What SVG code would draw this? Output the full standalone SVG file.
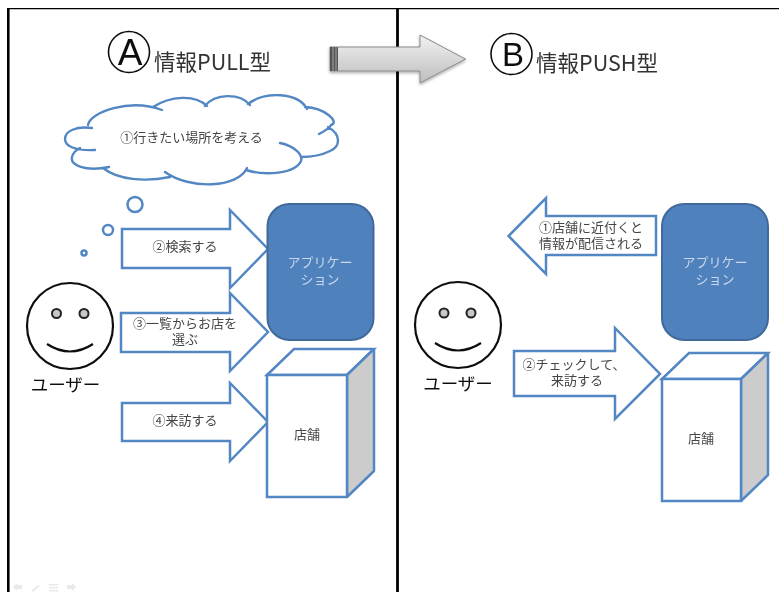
<svg xmlns="http://www.w3.org/2000/svg" width="779" height="592" viewBox="0 0 779 592">
<style>
text{font-family:"Liberation Sans","Noto Sans CJK JP",sans-serif;fill:#454545;font-size:13px;text-anchor:middle}
.b{fill:#fff;stroke:#5387c4;stroke-width:2.500;stroke-linejoin:miter;stroke-miterlimit:3}
.app{fill:#4f81bd;stroke:#3f6a9c;stroke-width:2}
.al{fill:#c9d8ec}
.side{fill:#ccc;stroke:#5387c4;stroke-width:2.500;stroke-linejoin:bevel}
.f{fill:none;stroke:#111;stroke-width:2.200}
.eye{fill:#c8c8c8;stroke:#222;stroke-width:2}
.frame{stroke:#000;fill:none}
.u{font-size:17.500px;fill:#111}
.t{font-size:21.500px;fill:#333;font-family:"Noto Sans CJK JP",sans-serif}
.big{font-size:37px;fill:#111;font-family:"Liberation Sans",sans-serif}
.tb{fill:#e9e9e9}
</style>
<defs>
<linearGradient id="g" x1="0" y1="0" x2="0" y2="1"><stop offset="0" stop-color="#f2f2f2"/><stop offset="1" stop-color="#bdbdbd"/></linearGradient>
<filter id="s" x="-10%" y="-10%" width="125%" height="130%"><feDropShadow dx="0" dy="1.500" stdDeviation="1.500" flood-color="#000" flood-opacity=".35"/></filter>
<filter id="soft" x="0" y="0" width="100%" height="100%"><feGaussianBlur stdDeviation="0.4"/></filter>
</defs>
<rect width="779" height="592" fill="#fff"/>
<g filter="url(#soft)">
<g id="frame" class="frame">
<path d="M7 8.500H779" stroke-width="1.600"/>
<path d="M8 8V592" stroke-width="3.200"/>
<path d="M397.500 8V592" stroke-width="2.800"/>
</g>
<g id="title-a">
<circle cx="129" cy="52" r="20.500" fill="none" stroke="#111" stroke-width="1.600"/>
<text class="big" x="130" y="65">A</text>
<text class="t" x="212.500" y="69.500">情報PULL型</text>
</g>
<g id="title-b">
<circle cx="511.500" cy="54" r="20.500" fill="none" stroke="#111" stroke-width="1.600"/>
<text class="big" style="font-size:33px" x="513" y="65.500">B</text>
<text class="t" x="597" y="71">情報PUSH型</text>
</g>
<g id="connectors">
<g id="transition" filter="url(#s)">
<path d="M330 47H420V35L465.500 59L420 83V71H330Z" fill="url(#g)" stroke="#8a8a8a" stroke-width="1"/>
<path d="M330 47h8v24h-8z" fill="#555"/>
<path d="M333 47v24M336 47v24" stroke="#bbb" stroke-width=".8"/>
</g>
</g>
<g id="cloud">
<path fill="none" stroke="#5387c4" stroke-width="2.400" stroke-linecap="round" d="M95 150C75 151 65 146 65 139C65 131 76 126 92 128M88 125C90 112 130 98 162 110M153 107C170 96 195 94 207 106M205 106C215 93 240 93 250 105M248 104C265 91 298 92 307 109M305 107C325 108 340 122 331 125C329 129 325 131 319 134M328 127C342 135 340 147 330 151C322 155 310 157 301 157M280 143C295 146 303 155 301 161C295 174 265 176 246 170M247 168C238 188 190 190 165 172M170 177C145 182 118 180 103 168M109 167C85 172 70 165 72 157C73 153 76 150 80 148"/>
<text x="191.500" y="142">①行きたい場所を考える</text>
<circle class="b" cx="135" cy="204.500" r="7.500"/>
<circle class="b" cx="108" cy="230" r="5"/>
<circle class="b" cx="84" cy="253" r="2.500"/>
</g>
<g id="user-a">
<circle class="f" cx="70" cy="326" r="43"/>
<circle class="eye" cx="56.500" cy="313.500" r="4.500"/>
<circle class="eye" cx="84" cy="313.500" r="4.500"/>
<path class="f" d="M47 344Q70 359 93 344"/>
<text class="u" x="65.500" y="391">ユーザー</text>
</g>
<g id="arrow-search">
<path class="b" d="M122 229H230V210L268 249L230 288V268H122Z"/>
<text x="185" y="251">②検索する</text>
</g>
<g id="arrow-list">
<path class="b" d="M121 313H230V293L268 332L230 371V352H121Z"/>
<text x="185" y="328">③一覧からお店を<tspan x="185" dy="16">選ぶ</tspan></text>
</g>
<g id="arrow-visit">
<path class="b" d="M122 403H230V383L268 422L230 461V441H122Z"/>
<text x="185" y="425">④来訪する</text>
</g>
<g id="app-a">
<rect class="app" x="267.500" y="204" width="106" height="136" rx="22"/>
<text class="al" x="320" y="267">アプリケー<tspan x="320" dy="16.500">ション</tspan></text>
</g>
<g id="store-a">
<path class="b" d="M267 375L294 349H374L347 375Z"/>
<path class="side" d="M347 375L374 349V471L347 497Z"/>
<rect class="b" x="267" y="375" width="80" height="122"/>
<text x="307" y="439">店舗</text>
</g>
<g id="user-b">
<circle class="f" cx="458" cy="325" r="43"/>
<circle class="eye" cx="444" cy="313" r="4.500"/>
<circle class="eye" cx="471" cy="313" r="4.500"/>
<path class="f" d="M435 343Q458 358 481 343"/>
<text class="u" x="458" y="390">ユーザー</text>
</g>
<g id="arrow-notify">
<path class="b" d="M656 216H546V198L508.500 236L546 274V255H656Z"/>
<text x="591" y="232">①店舗に近付くと<tspan x="591" dy="16">情報が配信される</tspan></text>
</g>
<g id="arrow-check">
<path class="b" d="M514 351H615V328L660 374L615 419V396H514Z"/>
<text x="574" y="369">②チェックして、<tspan x="577" dy="16">来訪する</tspan></text>
</g>
<g id="app-b">
<rect class="app" x="662" y="204" width="106" height="136" rx="22"/>
<text class="al" x="715" y="267">アプリケー<tspan x="715" dy="16.500">ション</tspan></text>
</g>
<g id="store-b">
<path class="b" d="M662 379L689 353H768L741 379Z"/>
<path class="side" d="M741 379L768 353V475L741 501Z"/>
<rect class="b" x="662" y="379" width="79" height="122"/>
<text x="701" y="443">店舗</text>
</g>
<g id="toolbar">
<path class="tb" d="M13 587l4-4v2h5v4h-5v2z"/>
<path class="tb" d="M31 591l7-6 2 1-7 6z"/>
<path class="tb" d="M49 584h9v1.500h-9zM49 587h9v1.500h-9zM49 590h9v1.500h-9z"/>
<path class="tb" d="M76 587l-4-4v2h-5v4h5v2z"/>
</g>
</g>
</svg>
